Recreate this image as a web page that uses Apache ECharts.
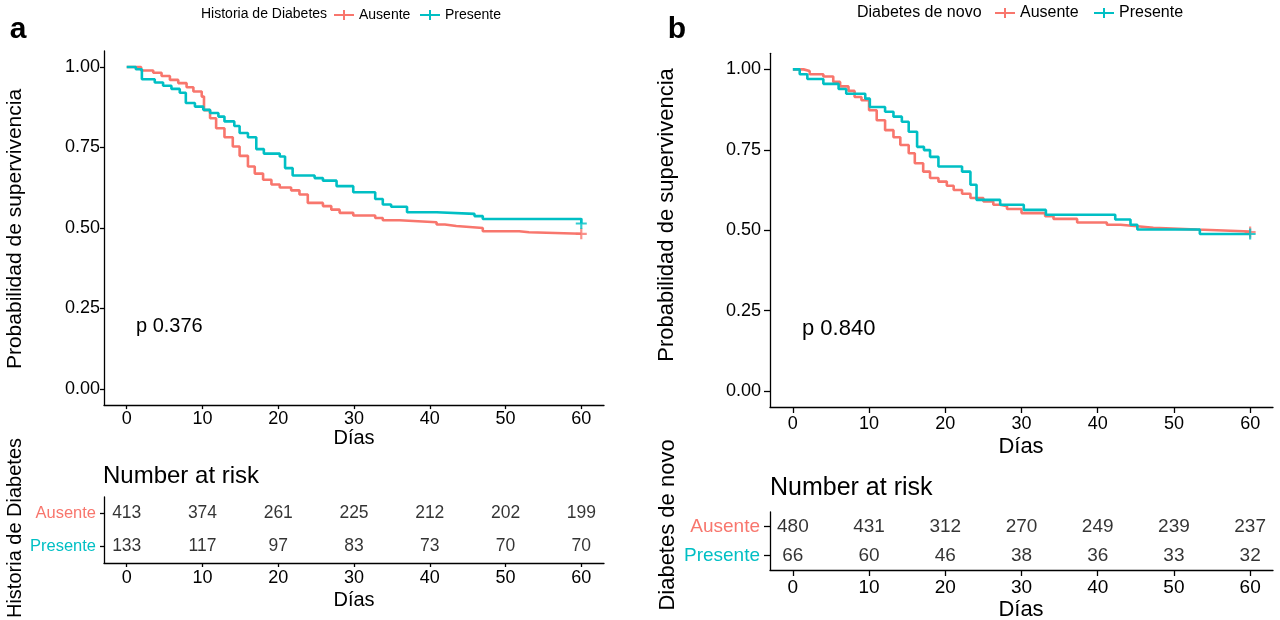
<!DOCTYPE html>
<html><head><meta charset="utf-8">
<script src="https://cdn.jsdelivr.net/npm/echarts@6/dist/echarts.min.js"></script>
<style>html,body{margin:0;padding:0;background:#fff}#c{width:1280px;height:620px}</style>
</head><body><div id="c"></div>
<script>
// ---------- DATA ----------
const groups = ['Ausente', 'Presente'];
const dayTicks = [0, 10, 20, 30, 40, 50, 60];
const probTicks = [0, 0.25, 0.5, 0.75, 1];

// Panel a: Historia de Diabetes  [día, supervivencia]
const kmA_Ausente = [[0,1],[1.9,0.989],[3.5,0.982],[4.6,0.972],[5.7,0.960],[6.8,0.950],[7.9,0.937],[8.8,0.924],[9.9,0.908],[10.2,0.866],[11.0,0.841],[11.8,0.810],[12.9,0.782],[14.0,0.753],[14.9,0.724],[16.0,0.691],[16.9,0.669],[18.0,0.650],[19.1,0.635],[20.2,0.626],[21.7,0.617],[22.8,0.604],[23.9,0.578],[25.9,0.568],[27.0,0.557],[28.1,0.547],[29.9,0.539],[32.8,0.531],[33.8,0.524],[36.0,0.518],[40.9,0.511],[42.0,0.506],[43.5,0.500],[47.0,0.490],[51.8,0.487],[53.1,0.482],[60,0.482]];
const kmA_Presente = [[0,1],[1.2,0.993],[2.0,0.962],[3.7,0.952],[4.8,0.942],[5.9,0.932],[7.0,0.920],[7.8,0.888],[9.0,0.877],[10.1,0.867],[11.0,0.857],[12.1,0.846],[12.9,0.831],[14.2,0.817],[14.9,0.795],[16.0,0.782],[17.1,0.745],[18.1,0.731],[20.2,0.722],[20.9,0.686],[21.9,0.663],[24.8,0.655],[25.9,0.647],[27.7,0.630],[29.9,0.611],[32.8,0.590],[33.8,0.573],[34.9,0.566],[37.0,0.549],[40.9,0.544],[45.9,0.537],[47.0,0.528],[60,0.514]];
// Panel b: Diabetes de novo
const kmB_Ausente = [[0,1],[1.4,0.995],[2.2,0.985],[4.0,0.978],[5.3,0.961],[6.2,0.947],[7.3,0.933],[8.1,0.914],[9.0,0.904],[10.0,0.873],[11.0,0.842],[12.1,0.811],[13.2,0.789],[14.1,0.765],[15.2,0.739],[16.0,0.708],[17.1,0.682],[18.0,0.662],[19.1,0.651],[20.2,0.638],[21.1,0.625],[22.2,0.613],[23.3,0.600],[25.0,0.589],[26.3,0.579],[27.2,0.574],[28.1,0.566],[30.0,0.553],[33.1,0.543],[34.2,0.535],[37.3,0.524],[41.2,0.517],[43.0,0.512],[45.2,0.507],[47.3,0.502],[53.0,0.496],[60,0.494]];
const kmB_Presente = [[0,1],[0.9,0.985],[1.9,0.970],[4.0,0.955],[6.0,0.939],[7.0,0.924],[9.5,0.909],[10.1,0.883],[12.1,0.868],[13.2,0.853],[14.3,0.837],[15.2,0.806],[16.3,0.759],[17.2,0.749],[18.0,0.728],[19.1,0.698],[22.2,0.682],[23.3,0.641],[24.1,0.594],[27.2,0.579],[30.3,0.563],[33.2,0.548],[42.3,0.533],[44.3,0.517],[45.2,0.502],[53.4,0.488],[60,0.488]];

// Number at risk
const riskA_Ausente = [413, 374, 261, 225, 212, 202, 199];
const riskA_Presente = [133, 117, 97, 83, 73, 70, 70];
const riskB_Ausente = [480, 431, 312, 270, 249, 239, 237];
const riskB_Presente = [66, 60, 46, 38, 36, 33, 32];

const pValueA = 'p 0.376';
const pValueB = 'p 0.840';

// ---------- STYLE ----------
const FONT = '"Liberation Sans", Arial, Helvetica, sans-serif';
const colors = { Ausente: '#F8766D', Presente: '#00BFC4' };
const plusIcon = 'path://M0,5H20V7H0Z M9,1H11V11H9Z';
const plusSym = 'path://M4,0H6V10H4Z M0,4H10V6H0Z';

function xAxisCfg(gi, fs, margin, tickLen) {
  return {
    gridIndex: gi, type: 'value', min: -3, max: 63,
    axisLine: { show: true, onZero: false, lineStyle: { color: '#000', width: 1.3 } },
    axisTick: { show: true, length: tickLen, customValues: dayTicks, lineStyle: { color: '#000', width: 1.3 } },
    axisLabel: { customValues: dayTicks, fontSize: fs, color: '#000', fontFamily: FONT, margin: margin },
    splitLine: { show: false }
  };
}
function yAxisCfg(gi, min, max, fs, margin, tickLen) {
  return {
    gridIndex: gi, type: 'value', min: min, max: max,
    axisLine: { show: true, onZero: false, lineStyle: { color: '#000', width: 1.3 } },
    axisTick: { show: true, length: tickLen, customValues: probTicks, lineStyle: { color: '#000', width: 1.3 } },
    axisLabel: { customValues: probTicks, fontSize: fs, color: '#000', fontFamily: FONT, margin: margin,
      formatter: v => Number(v).toFixed(2) },
    splitLine: { show: false }
  };
}
function riskYAxis(gi, fs, margin, tickLen) {
  return {
    gridIndex: gi, type: 'category', data: ['Presente', 'Ausente'],
    axisLine: { show: true, onZero: false, lineStyle: { color: '#000', width: 1.3 } },
    axisTick: { show: true, length: tickLen, alignWithLabel: true, lineStyle: { color: '#000', width: 1.3 } },
    axisLabel: { fontSize: fs, fontFamily: FONT, margin: margin, color: v => colors[v] },
    splitLine: { show: false }
  };
}

const series = [];
function addKM(data, name, xi) {
  series.push({
    type: 'line', name: name, step: 'end', xAxisIndex: xi, yAxisIndex: xi,
    data: data, showSymbol: false, symbol: 'none', silent: true,
    lineStyle: { color: colors[name], width: 2.6 }, itemStyle: { color: colors[name] }, z: name === 'Presente' ? 3 : 2
  });
  series.push({
    type: 'scatter', name: name, xAxisIndex: xi, yAxisIndex: xi,
    data: [data[data.length - 1]], symbol: plusSym, symbolSize: 11, silent: true,
    itemStyle: { color: colors[name] }, z: 4
  });
}
addKM(kmA_Ausente, 'Ausente', 0);
addKM(kmA_Presente, 'Presente', 0);
addKM(kmB_Ausente, 'Ausente', 1);
addKM(kmB_Presente, 'Presente', 1);

function addRisk(values, name, xi, fs) {
  series.push({
    type: 'scatter', name: 'risk-' + name, xAxisIndex: xi, yAxisIndex: xi, silent: true,
    data: dayTicks.map((t, i) => [t, name, values[i]]),
    symbol: 'circle', symbolSize: 1, itemStyle: { color: 'transparent' },
    label: { show: true, position: 'inside', formatter: p => String(p.value[2]), fontSize: fs, color: '#000', fontFamily: FONT }
  });
}
addRisk(riskA_Ausente, 'Ausente', 2, 17.5);
addRisk(riskA_Presente, 'Presente', 2, 17.5);
addRisk(riskB_Ausente, 'Ausente', 3, 19);
addRisk(riskB_Presente, 'Presente', 3, 19);

function txt(text, x, y, size, opts) {
  opts = opts || {};
  return {
    type: 'text', x: x, y: y, rotation: opts.rot || 0, silent: true,
    style: { text: text, fontSize: size, fontFamily: FONT, fontWeight: opts.bold ? 'bold' : 'normal',
      fill: opts.fill || '#000', align: opts.align || 'left', verticalAlign: 'middle' }
  };
}
function legendItem(name, left, top, fs) {
  return { left: left, top: top, padding: 0, itemWidth: 20, itemHeight: 12, selectedMode: false,
    textStyle: { fontSize: fs, color: '#000', fontFamily: FONT },
    data: [{ name: name, icon: plusIcon, itemStyle: { color: colors[name] } }] };
}

const option = {
  animation: false,
  backgroundColor: '#fff',
  textStyle: { fontFamily: FONT },
  grid: [
    { left: 104, top: 50.9, width: 500, height: 354.2 },
    { left: 770, top: 53.3, width: 503, height: 353.7 },
    { left: 104, top: 497, width: 500, height: 66 },
    { left: 770, top: 512, width: 503, height: 58 }
  ],
  xAxis: [xAxisCfg(0, 18, 5, 4), xAxisCfg(1, 18, 8, 6), xAxisCfg(2, 18, 6, 4), xAxisCfg(3, 19, 8, 6)],
  yAxis: [yAxisCfg(0, -0.05, 1.05, 18, 4, 4), yAxisCfg(1, -0.05, 1.05, 18, 9, 6),
          riskYAxis(2, 16.5, 8, 4), riskYAxis(3, 19, 10, 6)],
  legend: [
    legendItem(groups[0], 334, 8, 14),
    legendItem(groups[1], 420, 8, 14),
    legendItem(groups[0], 995, 5, 16),
    legendItem(groups[1], 1094, 5, 16)
  ],
  graphic: [
    txt('a', 18, 30, 30, { bold: true, align: 'center' }),
    txt('b', 677, 30, 30, { bold: true, align: 'center' }),
    txt('Historia de Diabetes', 201, 14, 14),
    txt('Diabetes de novo', 857, 13, 16),
    txt('Probabilidad de supervivencia', 15, 229, 21, { rot: Math.PI / 2, align: 'center' }),
    txt('Probabilidad de supervivencia', 667, 215, 22, { rot: Math.PI / 2, align: 'center' }),
    txt(pValueA, 136, 326, 20),
    txt(pValueB, 802, 329, 22),
    txt('Días', 354, 438, 20, { align: 'center' }),
    txt('Días', 1021, 447, 22, { align: 'center' }),
    txt('Number at risk', 103, 476, 24),
    txt('Number at risk', 770, 488, 25),
    txt('Historia de Diabetes', 15, 528, 20, { rot: Math.PI / 2, align: 'center' }),
    txt('Diabetes de novo', 668, 525, 22, { rot: Math.PI / 2, align: 'center' }),
    txt('Días', 354, 600, 20, { align: 'center' }),
    txt('Días', 1021, 610, 22, { align: 'center' })
  ],
  series: series
};

const chart = echarts.init(document.getElementById('c'), null, { renderer: 'canvas' });
chart.setOption(option);
</script>
</body></html>
